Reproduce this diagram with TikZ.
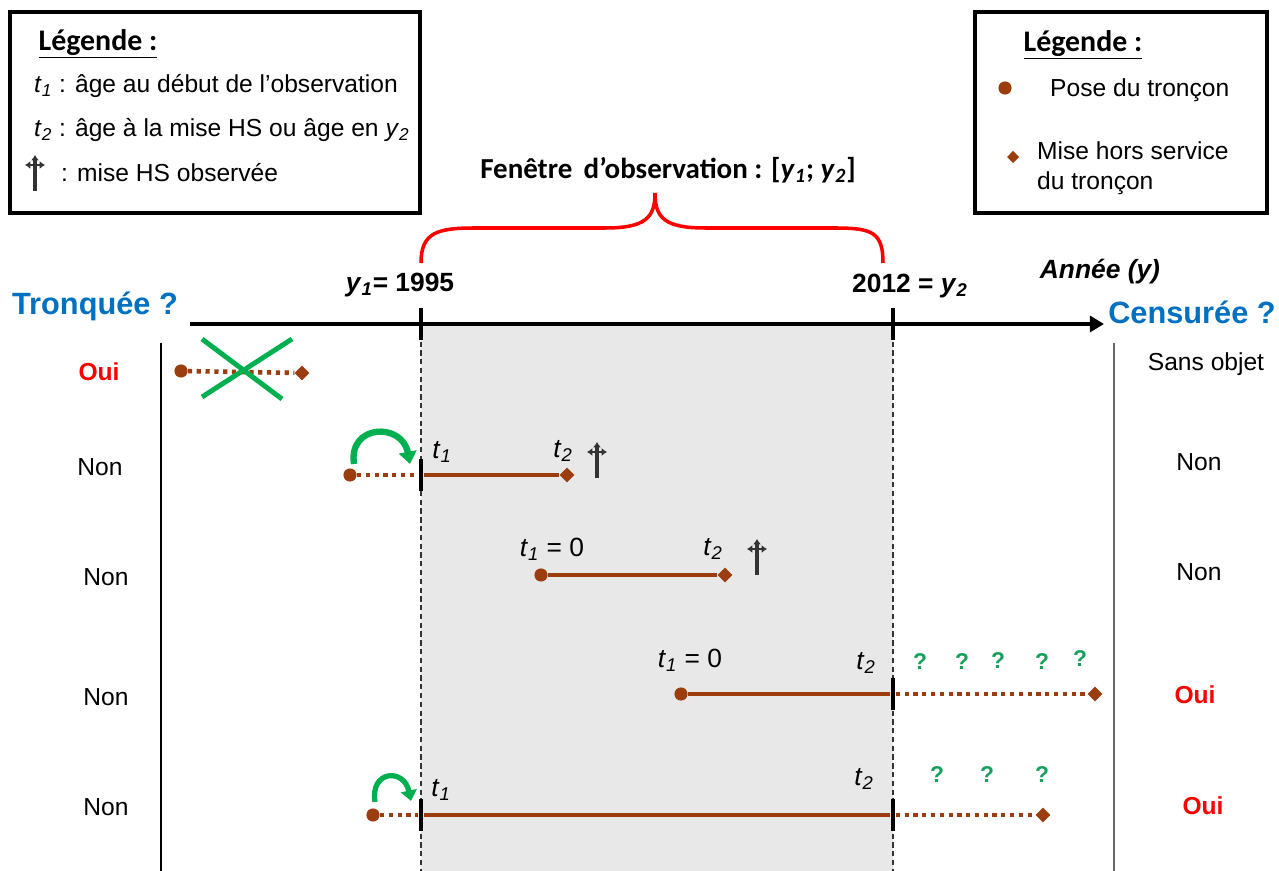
\documentclass[tikz,border=0pt]{standalone}
\usepackage{fontspec}
\setmainfont{Liberation Sans}
\newfontfamily\calibfont{Carlito}
\usetikzlibrary{arrows.meta,shapes.geometric}
\definecolor{Tronc}{HTML}{9C3D10}
\definecolor{Vert}{HTML}{00B050}
\definecolor{VertQ}{HTML}{17A05C}
\definecolor{Bleu}{HTML}{0070C0}
\definecolor{Rouge}{HTML}{FF0000}
\definecolor{Fond}{HTML}{E8E8E8}
\definecolor{Croix}{HTML}{333333}
\newcommand{\tage}[1]{\textit{t}\textsubscript{\textit{#1}}}
\newcommand{\yan}[1]{\textit{y}\textsubscript{\textit{#1}}}
\tikzset{
  pose/.style={circle,fill=Tronc,inner sep=0pt,minimum size=7.5pt},
  hs/.style={diamond,fill=Tronc,inner sep=0pt,minimum size=8.5pt},
  obs/.style={draw=Tronc,line width=2.4pt},
  hors/.style={draw=Tronc,line width=2.6pt,dash pattern=on 2.4pt off 2.6pt},
  borne/.style={rectangle,fill=black,inner sep=0pt,minimum width=2.8pt,minimum height=18pt},
  saut/.style={-{Triangle[length=7pt,width=10pt]},draw=Vert,line width=3.6pt},
  boite/.style={draw=black,line width=1.8pt},
  txt/.style={font=\fontsize{14}{17}\selectfont},
  oui/.style={text=Rouge,font=\fontsize{14}{17}\selectfont\bfseries},
  quest/.style={text=Bleu,font=\fontsize{17.5}{21}\selectfont\bfseries},
  annee/.style={font=\fontsize{15}{18}\selectfont\bfseries},
  tlab/.style={font=\fontsize{15}{18}\selectfont},
  inconnu/.style={text=VertQ,font=\fontsize{13}{16}\selectfont\bfseries},
  legende/.style={font=\calibfont\fontsize{17}{20}\selectfont\bfseries},
  dague/.pic={
    \draw[Croix,line width=1.8pt,-{Latex[length=3pt,width=4.5pt]}] (0,18) -- (0,-18);
    \draw[Croix,line width=1.6pt,{Latex[length=3pt,width=4.5pt]}-{Latex[length=3pt,width=4.5pt]}] (-10,-8) -- (10,-8);
  },
}

\begin{document}
\begin{tikzpicture}[x=0.02cm,y=-0.02cm]
    \fill[white] (0,0) rectangle (1279,871);
    \useasboundingbox (0,0) rectangle (1279,871);

    % fenetre d'observation
    \fill[Fond] (421,324) rectangle (893,871);
    \draw[Croix,line width=0.6pt,dash pattern=on 3pt off 2pt] (421,324) -- (421,871);
    \draw[Croix,line width=0.6pt,dash pattern=on 3pt off 2pt] (893,324) -- (893,871);
    \draw[black,line width=0.8pt] (161,343) -- (161,871);
    \draw[black!60,line width=0.9pt] (1114,343) -- (1114,871);

    % legendes
    \draw[boite] (10,12) rectangle (420,213);
    \node[legende] (leg1) at (98,44) {\underline{Légende :}};
    \node[txt,anchor=west] (legt1) at (28,86) {\tage{1} : âge au début de l’observation};
    \node[txt,anchor=west] (legt2) at (28,130) {\tage{2} : âge à la mise HS ou âge en \yan{2}};
    \pic at (35,173) {dague};
    \node[txt,anchor=west] (legd) at (55,173) {: mise HS observée};

    \draw[boite] (975,12) rectangle (1267,213);
    \node[legende] (leg2) at (1083,45) {\underline{Légende :}};
    \node[pose] (legp) at (1005,88) {};
    \node[txt,anchor=west] (legpt) at (1044,90) {Pose du tronçon};
    \node[hs,minimum size=7pt] (legh) at (1013,157) {};
    \node[txt,anchor=west,align=left] (leght) at (1031,168) {Mise hors service\\du tronçon};

    % axe des annees
    \node[font=\calibfont\fontsize{16.5}{20}\selectfont\bfseries] (fen) at (668,170) {Fenêtre\, d’observation : [\yan{1}; \yan{2}]};
    \draw[Rouge,line width=2pt] (421,263) .. controls (421,232) and (438,228) .. (475,228) -- (605,228)
      .. controls (645,228) and (655,218) .. (655,193)
      .. controls (655,218) and (665,228) .. (705,228) -- (835,228)
      .. controls (872,228) and (883,232) .. (883,263);
    \coordinate (axL) at (190,324);
    \coordinate (axR) at (1104,324);
    \draw[line width=2.2pt,-{Triangle[length=8pt,width=9pt]}] (axL) -- (axR);
    \node[borne] (y1) at (421,324) {};
    \node[borne] (y2) at (893,324) {};
    \node[annee] (y1t) at (400,285) {\yan{1}= 1995};
    \node[annee] (y2t) at (910,286) {2012 = \yan{2}};
    \node[annee,font=\fontsize{15}{18}\selectfont\bfseries\itshape] (an) at (1100,272) {Année (y)};
    \node[quest] (tronq) at (95,306) {Tronquée ?};
    \node[quest] (cens) at (1192,312) {Censurée ?};

    % ligne 1
    \node[oui] (g1) at (99,372) {Oui};
    \node[txt] (d1) at (1206,364) {Sans objet};
    \node[pose] (p1) at (181,371) {};
    \node[hs] (h1) at (302,373) {};
    \draw[hors] (p1) -- (h1);
    \draw[Vert,line width=2.8pt] (202,339) -- (282,399);
    \draw[Vert,line width=2.8pt] (292,339) -- (202,397);

    % ligne 2
    \node[txt] (g2) at (100,467) {Non};
    \node[txt] (d2) at (1199,462) {Non};
    \node[pose] (p2) at (350,475) {};
    \node[borne] (b2) at (421,475) {};
    \node[hs] (h2) at (567,475) {};
    \draw[hors] (p2) -- (b2);
    \draw[obs] (b2) -- (h2);
    \coordinate (s2) at (354,464);
    \coordinate (e2) at (410,464);
    \draw[saut] (s2) .. controls (348,424) and (402,422) .. (e2);
    \node[tlab] (t12) at (442,452) {\tage{1}};
    \node[tlab] (t22) at (563,451) {\tage{2}};
    \pic at (597,460) {dague};

    % ligne 3
    \node[txt] (g3) at (106,577) {Non};
    \node[txt] (d3) at (1199,572) {Non};
    \node[pose] (p3) at (541,575) {};
    \node[hs] (h3) at (725,575) {};
    \draw[obs] (p3) -- (h3);
    \node[tlab] (t13) at (552,549) {\tage{1} = 0};
    \node[tlab] (t23) at (713,549) {\tage{2}};
    \pic at (757,557) {dague};

    % ligne 4
    \node[txt] (g4) at (106,697) {Non};
    \node[oui] (d4) at (1195,695) {Oui};
    \node[pose] (p4) at (681,694) {};
    \node[borne] (b4) at (893,694) {};
    \node[hs] (h4) at (1095,694) {};
    \draw[obs] (p4) -- (b4);
    \draw[hors] (b4) -- (h4);
    \node[tlab] (t14) at (690,660) {\tage{1} = 0};
    \node[tlab] (t24) at (866,663) {\tage{2}};
    \foreach \qx/\qy in {920/662,962/662,998/661,1042/662,1080/659}
      \node[inconnu] at (\qx,\qy) {?};

    % ligne 5
    \node[txt] (g5) at (106,807) {Non};
    \node[oui] (d5) at (1203,806) {Oui};
    \node[pose] (p5) at (373,815) {};
    \node[borne] (b5a) at (421,815) {};
    \node[borne] (b5b) at (893,815) {};
    \node[hs] (h5) at (1043,815) {};
    \draw[hors] (p5) -- (b5a);
    \draw[obs] (b5a) -- (b5b);
    \draw[hors] (b5b) -- (h5);
    \coordinate (s5) at (375,802);
    \coordinate (e5) at (411,801);
    \draw[saut,line width=3pt,-{Triangle[length=6pt,width=9pt]}] (s5) .. controls (370,770) and (404,768) .. (e5);
    \node[tlab] (t15) at (441,790) {\tage{1}};
    \node[tlab] (t25) at (864,779) {\tage{2}};
    \foreach \qx in {937,987,1042}
      \node[inconnu] at (\qx,775) {?};
  \end{tikzpicture}
\end{document}
